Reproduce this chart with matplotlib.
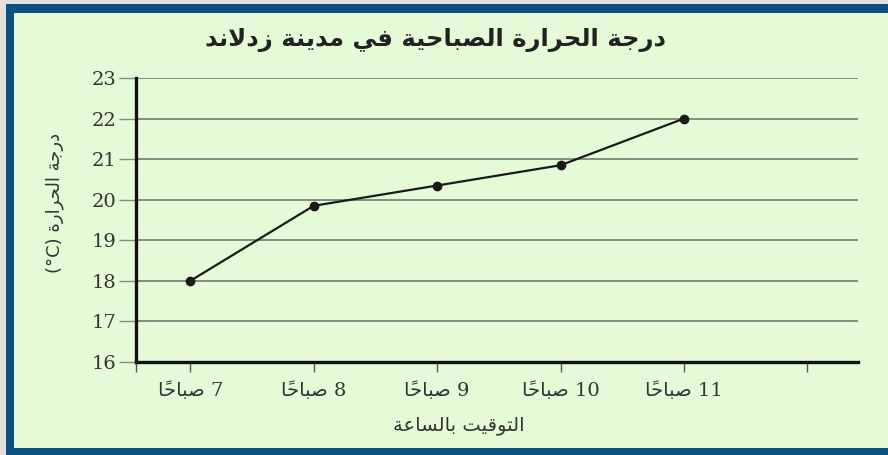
import matplotlib
matplotlib.use('Agg')
import matplotlib.pyplot as plt
from matplotlib.patches import Rectangle

hours = ['7', '8', '9', '10', '11']
temps = [18.0, 19.85, 20.35, 20.85, 22.0]
title = 'درجة الحرارة الصباحية في مدينة زدلاند'
ylabel = 'درجة الحرارة (°C)'
xlabel = 'التوقيت بالساعة'
morning = 'صباحاً'

# presentation forms: (isolated, final, initial, medial); None = no joining to the left
FORMS = {
    'ا': (0xFE8D, 0xFE8E, None, None), 'ب': (0xFE8F, 0xFE90, 0xFE91, 0xFE92),
    'ة': (0xFE93, 0xFE94, None, None), 'ت': (0xFE95, 0xFE96, 0xFE97, 0xFE98),
    'ج': (0xFE9D, 0xFE9E, 0xFE9F, 0xFEA0), 'ح': (0xFEA1, 0xFEA2, 0xFEA3, 0xFEA4),
    'د': (0xFEA9, 0xFEAA, None, None), 'ر': (0xFEAD, 0xFEAE, None, None),
    'ز': (0xFEAF, 0xFEB0, None, None), 'س': (0xFEB1, 0xFEB2, 0xFEB3, 0xFEB4),
    'ص': (0xFEB9, 0xFEBA, 0xFEBB, 0xFEBC), 'ع': (0xFEC9, 0xFECA, 0xFECB, 0xFECC),
    'ف': (0xFED1, 0xFED2, 0xFED3, 0xFED4), 'ق': (0xFED5, 0xFED6, 0xFED7, 0xFED8),
    'ل': (0xFEDD, 0xFEDE, 0xFEDF, 0xFEE0), 'م': (0xFEE1, 0xFEE2, 0xFEE3, 0xFEE4),
    'ن': (0xFEE5, 0xFEE6, 0xFEE7, 0xFEE8), 'و': (0xFEED, 0xFEEE, None, None),
    'ي': (0xFEF1, 0xFEF2, 0xFEF3, 0xFEF4),
    'لا': (0xFEFB, 0xFEFC, None, None),
}
MARKS = {'\u064B'}


def shape_word(word):
    # group letters (lam-alef as one) with their marks
    units = []
    i = 0
    while i < len(word):
        ch = word[i]
        if ch in MARKS and units:
            units[-1][1] += ch
        elif ch == 'ل' and i + 1 < len(word) and word[i + 1] == 'ا':
            units.append(['لا', ''])
            i += 1
        else:
            units.append([ch, ''])
        i += 1
    out = []
    for k, (base, marks) in enumerate(units):
        f = FORMS.get(base)
        if f is None:
            out.append(base + marks)
            continue
        prev = units[k - 1][0] if k > 0 else None
        nxt = units[k + 1][0] if k + 1 < len(units) else None
        join_prev = prev in FORMS and FORMS[prev][2] is not None
        join_next = f[2] is not None and nxt in FORMS
        if join_prev and join_next:
            code = f[3]
        elif join_prev:
            code = f[1]
        elif join_next:
            code = f[2]
        else:
            code = f[0]
        out.append(chr(code) + marks)
    return ''.join(reversed(out))


def rtl(text):
    words = []
    for w in text.split(' '):
        if any(c in FORMS or c in MARKS for c in w):
            words.append(shape_word(w))
        else:
            words.append(w)
    return ' '.join(reversed(words))


W, H = 888, 455
fig = plt.figure(figsize=(W / 100, H / 100), dpi=100)
fig.patch.set_facecolor('#e4e1dc')
# blue frame and pale green panel
fig.patches.append(Rectangle((6 / W, 0), 1, 1 - 4 / H, transform=fig.transFigure,
                             facecolor='#0b5282', edgecolor='none', zorder=-3))
fig.patches.append(Rectangle((14 / W, 7 / H), 1, (448 - 13) / H, transform=fig.transFigure,
                             facecolor='#e5fbd7', edgecolor='none', zorder=-2))

ax = fig.add_axes([136 / W, 1 - 362 / H, (858 - 136) / W, (362 - 78) / H])
ax.set_facecolor('none')

x = list(range(len(hours)))
ax.plot(x, temps, color='#1a1a1a', lw=1.6, marker='o', markersize=6, zorder=4)

ax.set_ylim(16, 23)
ax.set_xlim(-0.44, 5.41)
ax.set_yticks(range(16, 24))
ax.set_xticks([-0.44] + x + [5])
ax.set_xticklabels([''] + [rtl(h + ' ' + morning) for h in hours] + [''])
ax.yaxis.grid(True, color='#828f7e', lw=1.4)
ax.set_axisbelow(True)

for side in ['top', 'right']:
    ax.spines[side].set_visible(False)
for side in ['left', 'bottom']:
    ax.spines[side].set_linewidth(2.4)
    ax.spines[side].set_color('#111111')
    ax.spines[side].set_zorder(5)

ax.tick_params(axis='y', length=12, width=1, color='#828f7e', pad=2,
               labelsize=14, labelcolor='#333333')
ax.tick_params(axis='x', length=7, width=1, color='#555555', pad=7,
               labelsize=14, labelcolor='#333333')
for lab in ax.get_yticklabels():
    lab.set_family(['DejaVu Serif'])
for lab in ax.get_xticklabels():
    lab.set_family(['DejaVu Serif', 'DejaVu Sans'])

ax.set_ylabel(rtl(ylabel), fontsize=13, color='#333333', family=['DejaVu Sans'])
ax.yaxis.set_label_coords((64 - 136) / (858 - 136), 0.56)
ax.set_xlabel(rtl(xlabel), fontsize=14, color='#333333', family=['DejaVu Sans'])
ax.xaxis.set_label_coords((459 - 136) / (858 - 136), -(416 - 362) / (362 - 78))

fig.text(435 / W, 1 - 40 / H, rtl(title), ha='center', va='center',
         fontsize=17.5, fontweight='bold', color='#222222', family=['DejaVu Sans'])

fig.savefig('out.png', dpi=100, facecolor=fig.get_facecolor())
